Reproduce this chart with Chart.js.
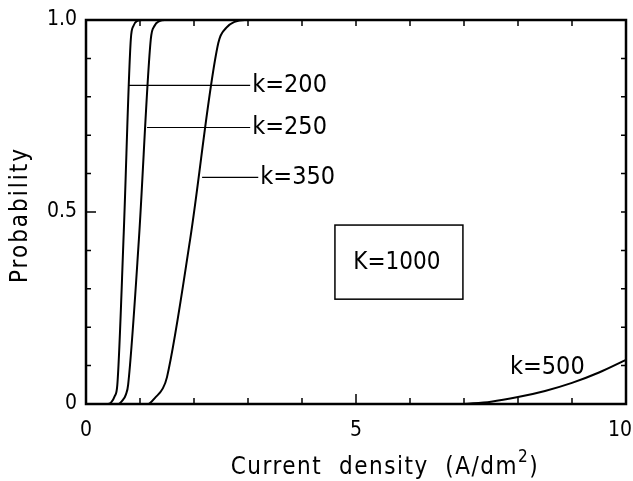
<!DOCTYPE html>
<html>
<head>
<meta charset="utf-8">
<script src="https://cdn.jsdelivr.net/npm/chart.js@4.4.1/dist/chart.umd.min.js"></script>
<style>
  html, body { margin: 0; padding: 0; background: #fff; }
  #wrap { width: 633px; height: 481px; }
</style>
</head>
<body>
<div id="wrap"><canvas id="myChart" width="633" height="481"></canvas></div>
<script>
"use strict";

// Data (current density in A/dm2, probability 0..1)

const k200X = [0, 0.40, 0.47, 0.53, 0.58, 0.70, 0.83, 0.88, 0.94, 1.04, 10];
const k200Y = [0, 0, 0.005, 0.02, 0.05, 0.45, 0.95, 0.985, 0.997, 1, 1];

const k250X = [0, 0.60, 0.68, 0.74, 0.78, 0.98, 1.20, 1.27, 1.36, 1.46, 10];
const k250Y = [0, 0, 0.01, 0.025, 0.05, 0.43, 0.95, 0.985, 0.997, 1, 1];

const k350X = [0, 1.15, 1.29, 1.42, 1.50, 1.93, 2.45, 2.60, 2.75, 2.94, 10];
const k350Y = [0, 0, 0.018, 0.04, 0.07, 0.43, 0.94, 0.98, 0.995, 1, 1];

const k500X = [7, 7.5, 8, 8.5, 9, 9.5, 10];
const k500Y = [0, 0.006, 0.018, 0.034, 0.055, 0.082, 0.115];

// leader lines from curves to their labels
const leaderY = [0.83, 0.72, 0.59];
const leaderFromX = [0.78, 1.13, 2.15];
const leaderToX = [3.04, 3.04, 3.19];
const leaderText = ["k=200", "k=250", "k=350"];

const k500Label = { x: 7.85, y: 0.094, text: "k=500" };
const boxLabel = { x0: 4.61, x1: 6.98, y0: 0.273, y1: 0.466, text: "K=1000" };

const xTickLabels = [0, 5, 10];
const yTickLabels = { 0: "0", 0.5: "0.5", 1: "1.0" };
const xTitle = "Current  density  (A/dm";
const yTitle = "Probability";

const FONT = "'DejaVu Sans Condensed', 'Liberation Sans Narrow', 'DejaVu Sans', sans-serif";

const toPoints = (xs, ys) => xs.map((x, i) => ({ x: x, y: ys[i] }));

const curve = (xs, ys) => ({
  data: toPoints(xs, ys),
  borderColor: "#000",
  borderWidth: 2,
  pointRadius: 0,
  showLine: true,
  cubicInterpolationMode: "monotone",
  clip: 4,
});

const leaders = leaderY.map((y, i) => ({
  data: [{ x: leaderFromX[i], y: y }, { x: leaderToX[i], y: y }],
  borderColor: "#000",
  borderWidth: 1.2,
  pointRadius: 0,
  showLine: true,
}));

// Draws the frame, inward ticks, labels and axis titles

const decorations = {
  id: "decorations",
  afterDraw(chart) {
    const ctx = chart.ctx;
    const xs = chart.scales.x;
    const ys = chart.scales.y;
    const a = chart.chartArea;
    ctx.save();
    ctx.strokeStyle = "#000";
    ctx.fillStyle = "#000";

    // frame
    ctx.lineWidth = 2.5;
    ctx.strokeRect(a.left, a.top, a.right - a.left, a.bottom - a.top);

    // inward ticks
    ctx.lineWidth = 1.5;
    ctx.beginPath();
    xs.ticks.forEach((t) => {
      const px = xs.getPixelForValue(t.value);
      const len = t.value === 5 ? 10 : 6;
      ctx.moveTo(px, a.bottom);
      ctx.lineTo(px, a.bottom - len);
      ctx.moveTo(px, a.top);
      ctx.lineTo(px, a.top + 6);
    });
    ys.ticks.forEach((t) => {
      const py = ys.getPixelForValue(t.value);
      const len = Math.abs(t.value - 0.5) < 1e-6 ? 10 : 5;
      ctx.moveTo(a.left, py);
      ctx.lineTo(a.left + len, py);
      ctx.moveTo(a.right, py);
      ctx.lineTo(a.right - 5, py);
    });
    ctx.stroke();

    // x tick labels (last one kept inside the canvas)
    ctx.font = "21px " + FONT;
    ctx.textBaseline = "middle";
    ctx.textAlign = "center";
    xTickLabels.forEach((v) => {
      const txt = String(v);
      const half = ctx.measureText(txt).width / 2;
      const px = Math.min(xs.getPixelForValue(v), chart.width - half - 1);
      ctx.fillText(txt, px, a.bottom + 27);
    });

    // curve labels
    ctx.font = "25px " + FONT;
    ctx.textAlign = "left";
    leaderText.forEach((txt, i) => {
      ctx.fillText(txt, xs.getPixelForValue(leaderToX[i]) + 2, ys.getPixelForValue(leaderY[i]));
    });
    ctx.fillText(k500Label.text, xs.getPixelForValue(k500Label.x), ys.getPixelForValue(k500Label.y));

    // K=1000 box
    const bx0 = xs.getPixelForValue(boxLabel.x0);
    const bx1 = xs.getPixelForValue(boxLabel.x1);
    const by0 = ys.getPixelForValue(boxLabel.y1);
    const by1 = ys.getPixelForValue(boxLabel.y0);
    ctx.lineWidth = 1.5;
    ctx.strokeRect(bx0, by0, bx1 - bx0, by1 - by0);
    ctx.font = "24px " + FONT;
    ctx.textAlign = "center";
    ctx.fillText(boxLabel.text, (bx0 + bx1) / 2 - 2, (by0 + by1) / 2 + 1);

    // x title with superscript
    ctx.letterSpacing = "1.5px";
    ctx.textAlign = "left";
    ctx.font = "24px " + FONT;
    const w = ctx.measureText(xTitle).width;
    ctx.font = "17px " + FONT;
    const w2 = ctx.measureText("2").width;
    ctx.font = "24px " + FONT;
    const w3 = ctx.measureText(")").width;
    const startX = 385 - (w + w2 + w3) / 2;
    const ty = 468;
    ctx.fillText(xTitle, startX, ty);
    ctx.font = "17px " + FONT;
    ctx.fillText("2", startX + w, ty - 10);
    ctx.font = "24px " + FONT;
    ctx.fillText(")", startX + w + w2, ty);

    // y title
    ctx.letterSpacing = "2px";
    ctx.translate(21, 215);
    ctx.rotate(-Math.PI / 2);
    ctx.textAlign = "center";
    ctx.fillText(yTitle, 0, 0);
    ctx.restore();
  },
};

const ctx = document.getElementById("myChart").getContext("2d");
const myChart = new Chart(ctx, {
  type: "scatter",
  data: {
    datasets: [
      curve(k200X, k200Y),
      curve(k250X, k250Y),
      curve(k350X, k350Y),
      curve(k500X, k500Y),
      ...leaders,
    ],
  },
  options: {
    responsive: false,
    animation: false,
    layout: { padding: { top: 20, right: 7, left: 0, bottom: 0 } },
    plugins: {
      legend: { display: false },
      tooltip: { enabled: false },
    },
    scales: {
      x: {
        type: "linear",
        min: 0,
        max: 10,
        afterFit: (s) => {
          s.height = 77;
          s.paddingLeft = 0;
          s.paddingRight = 0;
        },
        grid: { display: false, drawTicks: false },
        border: { display: false },
        ticks: {
          stepSize: 1,
          autoSkip: false,
          maxRotation: 0,
          display: false,
        },
      },
      y: {
        type: "linear",
        min: 0,
        max: 1,
        afterFit: (s) => {
          s.width = 86;
          s.paddingTop = 0;
          s.paddingBottom = 0;
        },
        grid: { display: false, drawTicks: false },
        border: { display: false },
        ticks: {
          stepSize: 0.1,
          autoSkip: false,
          padding: 9,
          color: "#000",
          font: { family: FONT, size: 21 },
          callback: (v) => {
            const key = Object.keys(yTickLabels).find((k) => Math.abs(Number(k) - v) < 1e-6);
            return key !== undefined ? yTickLabels[key] : "";
          },
        },
      },
    },
  },
  plugins: [decorations],
});
</script>
</body>
</html>
